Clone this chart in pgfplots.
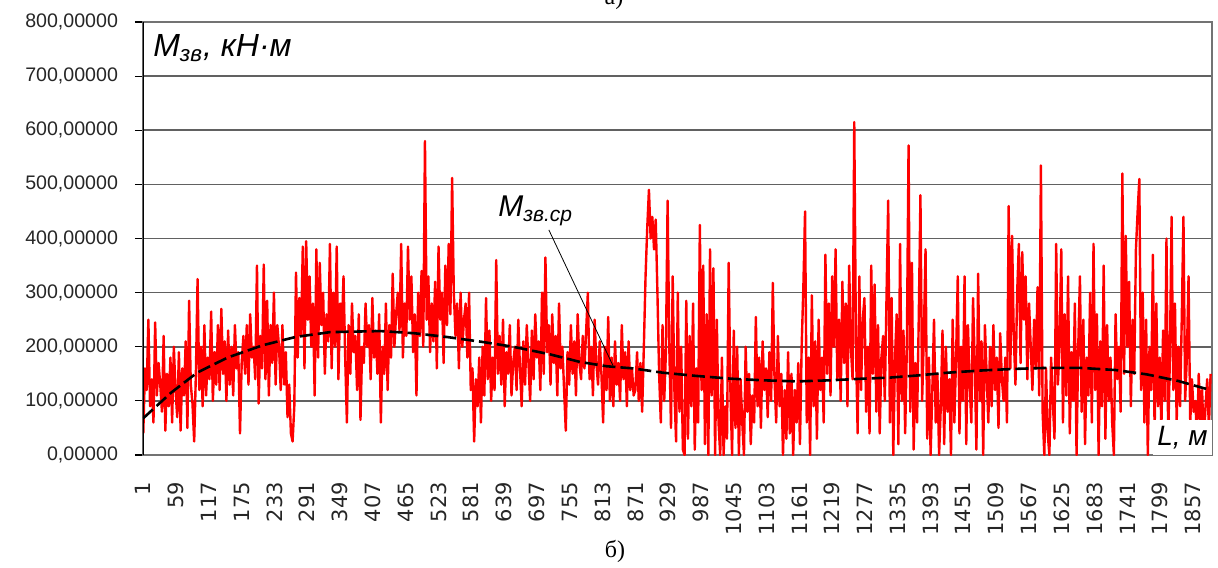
\documentclass[border=0pt]{standalone}
\usepackage{pgfplots}
\pgfplotsset{compat=1.18}
\usepackage{pgfplotstable}
\usepackage{fontspec}
\setmainfont{Liberation Sans}
\newfontfamily\dejavu{DejaVu Sans}
\newfontfamily\serif{Liberation Serif}

% bending moment, every 3rd point (L = 1, 4, 7, ...)
\pgfplotstableread[row sep=\\]{
y\\
40\\ 160\\ 120\\ 250\\ 90\\ 140\\ 60\\ 245\\ 110\\ 170\\
130\\ 80\\ 220\\ 45\\ 150\\ 90\\ 180\\ 60\\ 200\\ 120\\
70\\ 190\\ 45\\ 160\\ 110\\ 210\\ 50\\ 285\\ 130\\ 95\\
25\\ 150\\ 325\\ 120\\ 200\\ 90\\ 240\\ 110\\ 180\\ 140\\
265\\ 100\\ 190\\ 130\\ 240\\ 120\\ 270\\ 150\\ 210\\ 100\\
230\\ 130\\ 200\\ 110\\ 240\\ 160\\ 190\\ 40\\ 170\\ 220\\
150\\ 240\\ 130\\ 260\\ 180\\ 200\\ 140\\ 350\\ 95\\ 220\\
160\\ 352\\ 140\\ 285\\ 110\\ 240\\ 170\\ 300\\ 130\\ 240\\
200\\ 120\\ 240\\ 130\\ 190\\ 70\\ 130\\ 40\\ 25\\ 90\\
337\\ 180\\ 290\\ 220\\ 385\\ 160\\ 395\\ 250\\ 330\\ 200\\
280\\ 110\\ 380\\ 180\\ 355\\ 240\\ 300\\ 150\\ 260\\ 210\\
390\\ 160\\ 300\\ 200\\ 385\\ 140\\ 280\\ 230\\ 330\\ 180\\
60\\ 240\\ 150\\ 280\\ 190\\ 220\\ 120\\ 260\\ 65\\ 200\\
170\\ 280\\ 200\\ 240\\ 140\\ 290\\ 180\\ 230\\ 150\\ 260\\
60\\ 200\\ 150\\ 280\\ 120\\ 240\\ 180\\ 335\\ 200\\ 260\\
300\\ 230\\ 390\\ 180\\ 280\\ 220\\ 385\\ 250\\ 330\\ 190\\
260\\ 110\\ 300\\ 220\\ 340\\ 200\\ 580\\ 250\\ 330\\ 190\\
280\\ 210\\ 320\\ 160\\ 385\\ 250\\ 300\\ 170\\ 350\\ 240\\
390\\ 260\\ 512\\ 300\\ 220\\ 280\\ 160\\ 300\\ 200\\ 250\\
280\\ 180\\ 300\\ 120\\ 160\\ 25\\ 140\\ 90\\ 180\\ 60\\
200\\ 110\\ 290\\ 140\\ 230\\ 100\\ 180\\ 120\\ 360\\ 150\\
220\\ 130\\ 250\\ 90\\ 190\\ 150\\ 240\\ 110\\ 170\\ 200\\
120\\ 250\\ 160\\ 90\\ 210\\ 130\\ 240\\ 170\\ 100\\ 230\\
140\\ 260\\ 180\\ 210\\ 120\\ 300\\ 150\\ 365\\ 190\\ 240\\
130\\ 260\\ 170\\ 220\\ 110\\ 280\\ 160\\ 200\\ 120\\ 45\\
190\\ 130\\ 240\\ 150\\ 210\\ 110\\ 260\\ 170\\ 140\\ 220\\
160\\ 230\\ 300\\ 140\\ 200\\ 110\\ 250\\ 170\\ 130\\ 210\\
150\\ 60\\ 200\\ 120\\ 255\\ 100\\ 180\\ 90\\ 210\\ 130\\
170\\ 100\\ 240\\ 140\\ 190\\ 90\\ 210\\ 120\\ 160\\ 110\\
120\\ 190\\ 100\\ 170\\ 80\\ 200\\ 330\\ 420\\ 490\\ 400\\
440\\ 380\\ 435\\ 300\\ 150\\ 60\\ 240\\ 100\\ 190\\ 470\\
200\\ 50\\ 330\\ 120\\ 25\\ 300\\ 80\\ 200\\ 10\\ 0\\
285\\ 30\\ 220\\ 90\\ 280\\ 10\\ 160\\ 60\\ 425\\ 120\\
350\\ 20\\ 260\\ 0\\ 380\\ 110\\ 345\\ 0\\ 250\\ 60\\
0\\ 180\\ 0\\ 90\\ 30\\ 355\\ 120\\ 0\\ 230\\ 50\\
200\\ 0\\ 140\\ 60\\ 0\\ 200\\ 80\\ 150\\ 20\\ 110\\
60\\ 255\\ 90\\ 180\\ 50\\ 210\\ 120\\ 160\\ 70\\ 190\\
100\\ 318\\ 140\\ 60\\ 220\\ 90\\ 150\\ 0\\ 120\\ 30\\
190\\ 40\\ 150\\ 0\\ 120\\ 60\\ 170\\ 20\\ 200\\ 310\\
450\\ 60\\ 180\\ 0\\ 295\\ 90\\ 210\\ 30\\ 250\\ 120\\
180\\ 60\\ 370\\ 150\\ 280\\ 110\\ 330\\ 200\\ 380\\ 140\\
250\\ 100\\ 320\\ 170\\ 280\\ 90\\ 350\\ 200\\ 140\\ 615\\
200\\ 40\\ 330\\ 120\\ 250\\ 290\\ 80\\ 200\\ 40\\ 350\\
150\\ 315\\ 80\\ 240\\ 40\\ 180\\ 220\\ 100\\ 290\\ 470\\
60\\ 290\\ 0\\ 180\\ 260\\ 20\\ 390\\ 100\\ 230\\ 40\\
200\\ 572\\ 80\\ 355\\ 10\\ 170\\ 60\\ 250\\ 480\\ 100\\
220\\ 380\\ 30\\ 180\\ 0\\ 120\\ 250\\ 60\\ 150\\ 0\\
90\\ 230\\ 20\\ 200\\ 80\\ 140\\ 0\\ 250\\ 60\\ 180\\
330\\ 40\\ 200\\ 100\\ 330\\ 20\\ 240\\ 130\\ 60\\ 290\\
170\\ 10\\ 335\\ 100\\ 210\\ 0\\ 240\\ 150\\ 60\\ 200\\
90\\ 240\\ 120\\ 180\\ 50\\ 225\\ 140\\ 100\\ 180\\ 60\\
460\\ 160\\ 405\\ 220\\ 130\\ 300\\ 390\\ 170\\ 375\\ 250\\
330\\ 140\\ 280\\ 200\\ 120\\ 250\\ 160\\ 310\\ 110\\ 535\\
80\\ 0\\ 160\\ 40\\ 0\\ 180\\ 100\\ 30\\ 390\\ 130\\
200\\ 380\\ 60\\ 260\\ 110\\ 330\\ 40\\ 190\\ 100\\ 280\\
0\\ 200\\ 330\\ 80\\ 250\\ 20\\ 180\\ 110\\ 300\\ 60\\
390\\ 120\\ 260\\ 0\\ 210\\ 90\\ 350\\ 30\\ 240\\ 100\\
180\\ 60\\ 0\\ 260\\ 140\\ 200\\ 80\\ 520\\ 150\\ 405\\
200\\ 320\\ 90\\ 250\\ 150\\ 380\\ 450\\ 510\\ 120\\ 300\\
60\\ 250\\ 0\\ 200\\ 120\\ 370\\ 40\\ 280\\ 90\\ 180\\
50\\ 230\\ 100\\ 400\\ 30\\ 180\\ 440\\ 120\\ 280\\ 60\\
200\\ 90\\ 250\\ 440\\ 100\\ 180\\ 330\\ 60\\ 140\\ 80\\
100\\ 30\\ 150\\ 60\\ 120\\ 20\\ 90\\ 140\\ 50\\ 150\\
}\moment

% mean (trend) curve
\pgfplotstableread{
x y
1 68
50 115
96 152
150 180
213 203
270 218
331 227
420 229
480 225
538 218
600 209
655 200
720 186
773 172
820 164
867 160
920 152
980 146
1040 141
1097 138
1157 136
1215 138
1273 141
1321 143
1370 147
1422 152
1480 156
1539 159
1600 161
1657 161
1720 157
1775 149
1830 137
1874 124
1888 120
}\trend

\begin{document}
\begin{tikzpicture}
\begin{axis}[
  scale only axis,
  width=534.5pt, height=216.5pt,
  xmin=0.5, xmax=1890.5,
  ymin=0, ymax=800,
  xtick={1,59,...,1857},
  ytick={0,100,...,800},
  ymajorgrids,
  grid style={black!62, line width=0.8pt},
  axis line style={black!55, line width=0.6pt},
  xtick style={draw=none},
  ytick pos=left,
  ytick style={black, line width=0.6pt},
  tick align=outside,
  major tick length=4pt,
  xticklabel style={rotate=90, anchor=east, xshift=-6pt,
    font=\dejavu\fontsize{10.5}{12}\selectfont,
    text=black!85, /pgf/number format/.cd, 1000 sep={}, assume math mode=true},
  yticklabel style={font=\fontsize{9.8}{11}\selectfont, text=black!85, xshift=-5pt,
    /pgf/number format/.cd, fixed, fixed zerofill, precision=5, use comma,
    1000 sep={}, assume math mode=true},
  clip=true,
]
  \addplot[red, line width=1.2pt, line join=round] table[x expr=\coordindex*3+1, y=y]{\moment};
  \addplot[black, line width=1.3pt, dash pattern=on 6.5pt off 2.5pt] table[x=x, y=y]{\trend};
  \draw[black, line width=0.6pt] (rel axis cs:0,0) -- (rel axis cs:0,1);
  \node[anchor=base west, font=\fontsize{16}{18}\selectfont\itshape, inner sep=0pt]
    at (axis cs:18,736) {M\textsubscript{зв}, кН·м};
  \node[anchor=base west, font=\fontsize{15}{17}\selectfont\itshape, inner sep=0pt]
    at (axis cs:628,440) {M\textsubscript{зв.ср}};
  \draw[black, line width=0.4pt] (axis cs:718,416) -- (axis cs:831,166);
  \node[anchor=south east, fill=white, font=\fontsize{14}{16}\selectfont\itshape,
    inner xsep=2pt, inner ysep=3pt] at (rel axis cs:1,0) {L, м};
\end{axis}
\node[font=\serif\fontsize{12}{14}\selectfont, anchor=base] at (236pt,-51pt) {б)};
\node[font=\serif\fontsize{12}{14}\selectfont, anchor=base] at (235.5pt,225pt) {а)};
\pgfresetboundingbox
\path[use as bounding box] (-71.5pt,-56pt) rectangle (537.5pt,227.5pt);
\end{tikzpicture}
\end{document}
